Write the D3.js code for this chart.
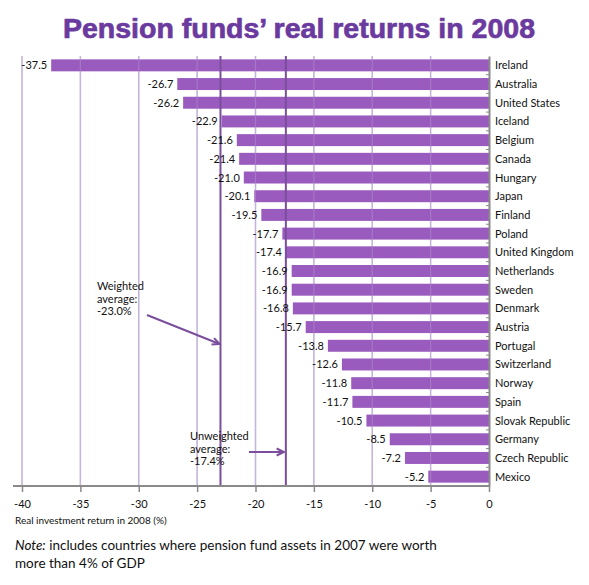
<!DOCTYPE html>
<html>
<head>
<meta charset="utf-8">
<script src="https://cdn.jsdelivr.net/npm/d3@7"></script>
<style>
  html, body { margin: 0; padding: 0; background: #fff; }
  svg { display: block; }
  text { font-family: Lato, "Open Sans", sans-serif; fill: #111; }
</style>
</head>
<body>
<script>
// Pension funds' real investment returns in 2008, by country (%)
const countries = ["Ireland", "Australia", "United States", "Iceland", "Belgium", "Canada",
  "Hungary", "Japan", "Finland", "Poland", "United Kingdom", "Netherlands", "Sweden",
  "Denmark", "Austria", "Portugal", "Switzerland", "Norway", "Spain", "Slovak Republic",
  "Germany", "Czech Republic", "Mexico"];
const returns2008 = [-37.5, -26.7, -26.2, -22.9, -21.6, -21.4, -21.0, -20.1, -19.5, -17.7,
  -17.4, -16.9, -16.9, -16.8, -15.7, -13.8, -12.6, -11.8, -11.7, -10.5, -8.5, -7.2, -5.2];
const xTicks = [-40, -35, -30, -25, -20, -15, -10, -5, 0];
const weightedAverage = -23.0;
const unweightedAverage = -17.4;

const W = 589, H = 585;
const svg = d3.select("body").append("svg").attr("width", W).attr("height", H);

const x = d3.scaleLinear().domain([-40, 0]).range([22, 489]);
const y = d3.scaleBand().domain(countries).range([56, 486]).paddingInner(0.36).paddingOuter(0.18);

const purple = "#9a5bbf";
const darkPurple = "#7a4e9c";
const grid = "#c4b4da";
const hyphen = s => s.replace("\u2212", "-");

// Title
svg.append("text")
  .attr("x", 299).attr("y", 38)
  .attr("text-anchor", "middle")
  .style("font-family", "'Liberation Sans', Arial, sans-serif")
  .style("font-weight", "bold")
  .style("font-size", "28.5px")
  .style("fill", "#6b3a9f")
  .style("stroke", "#6b3a9f")
  .style("stroke-width", "0.7px")
  .text("Pension funds\u2019 real returns in 2008");

// Vertical gridlines
svg.append("g").selectAll("line").data(xTicks.slice(0, -1)).join("line")
  .attr("x1", d => x(d)).attr("x2", d => x(d))
  .attr("y1", 56).attr("y2", 486)
  .attr("stroke", grid).attr("stroke-width", 1.5);

// Bars
const data = countries.map((c, i) => ({ country: c, value: returns2008[i] }));
svg.append("g").selectAll("rect").data(data).join("rect")
  .attr("x", d => x(d.value))
  .attr("y", d => y(d.country))
  .attr("width", d => x(0) - x(d.value))
  .attr("height", y.bandwidth())
  .attr("fill", purple);

// Gridlines show faintly across the bars
svg.append("g").selectAll("line").data(xTicks.slice(0, -1)).join("line")
  .attr("x1", d => x(d)).attr("x2", d => x(d))
  .attr("y1", 56).attr("y2", 486)
  .attr("stroke", grid).attr("stroke-width", 1.2).attr("opacity", 0.3);

// Average lines
[weightedAverage, unweightedAverage].forEach(v => {
  svg.append("line")
    .attr("x1", x(v)).attr("x2", x(v))
    .attr("y1", 56).attr("y2", 486)
    .attr("stroke", darkPurple).attr("stroke-width", 2);
});

// Value labels
svg.append("g").selectAll("text").data(data).join("text")
  .attr("x", d => x(d.value) - 4)
  .attr("y", d => y(d.country) + y.bandwidth() / 2 + 4)
  .attr("text-anchor", "end")
  .style("font-size", "11px")
  .text(d => hyphen(d3.format(".1f")(d.value)));

// Right-hand category axis
const yAxis = svg.append("g").attr("transform", `translate(${x(0)},0)`)
  .call(d3.axisLeft(y).tickSize(0).tickFormat(""));
yAxis.select(".domain").attr("stroke", "#8a8a8a").attr("stroke-width", 2);
svg.append("g").selectAll("line").data(countries.slice(1)).join("line")
  .attr("x1", x(0) - 3).attr("x2", x(0))
  .attr("y1", d => y(d) - y.step() * y.paddingInner() / 2)
  .attr("y2", d => y(d) - y.step() * y.paddingInner() / 2)
  .attr("stroke", "#8a8a8a").attr("stroke-width", 1);

// Country names
svg.append("g").selectAll("text").data(data).join("text")
  .attr("x", 495)
  .attr("y", d => y(d.country) + y.bandwidth() / 2 + 4)
  .style("font-size", "11px")
  .text(d => d.country);

// Bottom value axis
const xAxis = svg.append("g").attr("transform", "translate(0,486)")
  .call(d3.axisBottom(x).tickValues(xTicks).tickSize(6).tickPadding(8)
    .tickFormat(d => hyphen(d3.format("d")(d))));
xAxis.select(".domain").attr("d", `M13,0H${x(0)}`).attr("stroke", "#8a8a8a").attr("stroke-width", 2);
xAxis.selectAll(".tick line").attr("stroke", "#8a8a8a").attr("stroke-width", 1.5);
xAxis.selectAll(".tick text")
  .style("font-family", "Lato, 'Open Sans', sans-serif")
  .style("font-size", "11px").style("fill", "#111");

svg.append("text")
  .attr("x", 15).attr("y", 524)
  .style("font-size", "10px")
  .text("Real investment return in 2008 (%)");

// Annotations
function arrow(x1, y1, x2, y2) {
  svg.append("line").attr("x1", x1).attr("y1", y1).attr("x2", x2).attr("y2", y2)
    .attr("stroke", darkPurple).attr("stroke-width", 2);
  const a = Math.atan2(y2 - y1, x2 - x1), L = 8;
  const p = [[x2 - L * Math.cos(a - 0.45), y2 - L * Math.sin(a - 0.45)], [x2, y2],
             [x2 - L * Math.cos(a + 0.45), y2 - L * Math.sin(a + 0.45)]];
  svg.append("path").attr("d", d3.line()(p)).attr("fill", "none")
    .attr("stroke", darkPurple).attr("stroke-width", 2);
}
const wt = svg.append("text").style("font-size", "11px");
["Weighted", "average:", "-23.0%"].forEach((t, i) =>
  wt.append("tspan").attr("x", 97).attr("y", 290 + i * 12.5).text(t));
arrow(147, 315, x(weightedAverage) - 1, 344);

const ut = svg.append("text").style("font-size", "11px");
["Unweighted", "average:", "-17.4%"].forEach((t, i) =>
  ut.append("tspan").attr("x", 190).attr("y", 440 + i * 12.5).text(t));
arrow(249, 452, x(unweightedAverage) - 2, 452);

// Footnote
const note = svg.append("text").attr("x", 15).attr("y", 550).style("font-size", "13.5px");
note.append("tspan").style("font-style", "italic").text("Note:");
note.append("tspan").text(" includes countries where pension fund assets in 2007 were worth");
svg.append("text").attr("x", 15).attr("y", 568).style("font-size", "13.5px")
  .text("more than 4% of GDP");
</script>
</body>
</html>
